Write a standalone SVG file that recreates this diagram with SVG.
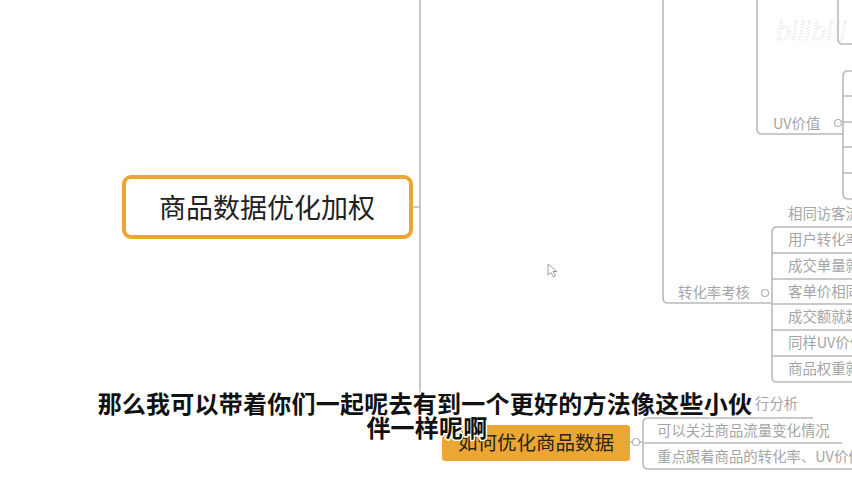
<svg xmlns="http://www.w3.org/2000/svg" width="852" height="480" viewBox="0 0 852 480">
<style>
.ln{fill:none;stroke:#b6bbba;stroke-width:1.6}
.g{font-family:"Noto Sans CJK SC","Noto Sans",sans-serif;font-size:14.4px;fill:#a3a6a6}
.ic{fill:#fff;stroke:#b0b4b4;stroke-width:1.2}
.sub{font-family:"Noto Sans CJK SC","Noto Sans",sans-serif;font-size:24px;font-weight:bold;fill:#111;stroke:#fff;stroke-width:3;paint-order:stroke;stroke-linejoin:round;letter-spacing:0.25px}
</style>
<rect width="852" height="480" fill="#fff"/>
<g id="connectors">
<path class="ln" d="M420,0 V428 Q420,432 424,432 H442"/>
<path class="ln" d="M413,207 H420"/>
<path class="ln" d="M663,0 V298 Q663,303 668,303 H772"/>
<path class="ln" d="M757,0 V129 Q757,134 762,134 H843"/>
<path class="ln" d="M838,0 V39 Q838,44 843,44 H852"/>
<path class="ln" d="M852,71 H848 Q843,71 843,76 V194 Q843,199 848,199 H852 M843,96 H852 M843,122 H852 M843,147 H852 M843,173 H852"/>
<path class="ln" d="M852,227 H777 Q772,227 772,232 V377 Q772,382 777,382 H852 M772,253 H852 M772,279 H852 M772,304 H852 M772,330 H852 M772,356 H852"/>
<path class="ln" d="M813,418 H648 Q643,418 643,423 V464 Q643,469 648,469 H852 M643,443 H842"/>
<path class="ln" d="M630,442 H643"/>
</g>
<g id="watermark">
<text x="776" y="40" font-family="DejaVu Sans,sans-serif" font-size="24" font-style="italic" fill="none" stroke="#d6d8d8" stroke-width="1" stroke-dasharray="1 2">bilibili</text>
</g>
<g id="node-main">
<rect x="124" y="177" width="287" height="60" rx="7" fill="#fff" stroke="#eba733" stroke-width="4"/>
<text x="267" y="218" text-anchor="middle" font-family="Noto Sans CJK SC,Noto Sans,sans-serif" font-size="27" fill="#222">商品数据优化加权</text>
</g>
<g id="node-uv">
<text class="g" x="773" y="129">UV价值</text>
<circle class="ic" cx="838" cy="123" r="3.5"/>
</g>
<g id="node-same-visitor">
<text class="g" x="788" y="219">相同访客流</text>
</g>
<g id="node-conv">
<text class="g" x="678" y="298">转化率考核</text>
<circle class="ic" cx="765" cy="293" r="3.5"/>
</g>
<g id="node-conv-children">
<text class="g" x="788" y="245">用户转化率</text>
<text class="g" x="788" y="271">成交单量就</text>
<text class="g" x="788" y="297">客单价相同</text>
<text class="g" x="788" y="322">成交额就越</text>
<text class="g" x="788" y="348">同样UV价值</text>
<text class="g" x="788" y="374">商品权重就</text>
</g>
<g id="node-bottom">
<rect x="442" y="425" width="188" height="36" rx="3" fill="#eba733"/>
<text x="536" y="450" text-anchor="middle" font-family="Noto Sans CJK SC,Noto Sans,sans-serif" font-size="19.5" fill="#2b2418">如何优化商品数据</text>
<circle class="ic" cx="636" cy="442" r="3.5"/>
</g>
<g id="node-bottom-children">
<text class="g" x="755" y="409">行分析</text>
<text class="g" x="657" y="436">可以关注商品流量变化情况</text>
<text class="g" x="657" y="462">重点跟着商品的转化率、UV价值</text>
</g>
<g id="cursor">
<path d="M548,264 V275 L551,272.5 L553.5,277 L555.5,276 L553,271.5 L557,271.5 Z" fill="#fff" stroke="#9a9e9e" stroke-width="1"/>
</g>
<g id="subtitle">
<text class="sub" x="425" y="413" text-anchor="middle">那么我可以带着你们一起呢去有到一个更好的方法像这些小伙</text>
<text class="sub" x="427" y="437" text-anchor="middle">伴一样呢啊</text>
</g>
</svg>
